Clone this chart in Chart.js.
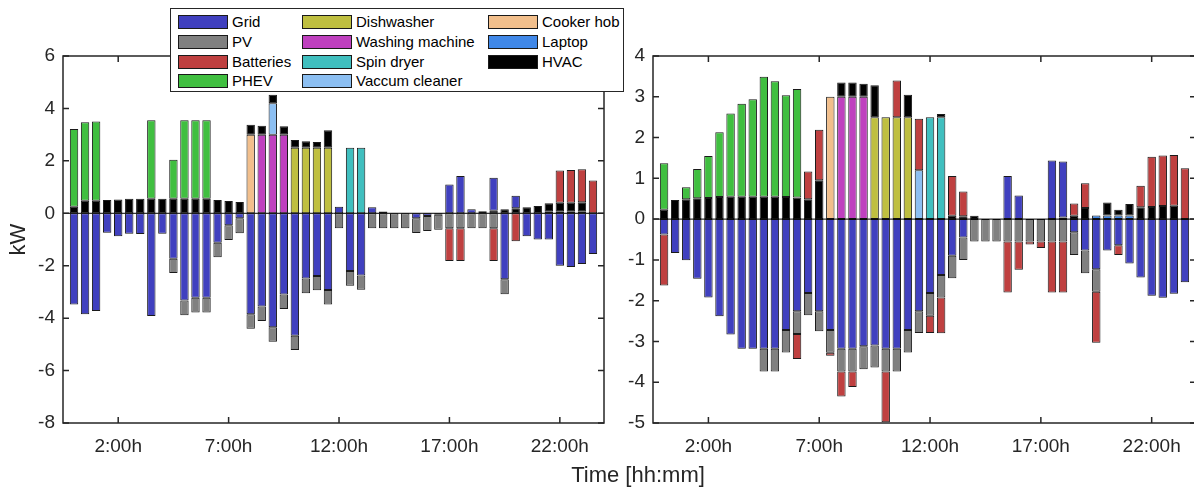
<!DOCTYPE html>
<html>
<head>
<meta charset="utf-8">
<script src="https://cdn.jsdelivr.net/npm/chart.js@4.4.1/dist/chart.umd.min.js"></script>
<style>
  body { margin: 0; background: #fff; width: 1194px; height: 487px; overflow: hidden; position: relative;
         font-family: "Liberation Sans", Arial, sans-serif; color: #262626; }
  #left { position: absolute; left: 0; top: 0; }
  #right { position: absolute; left: 612px; top: 0; }
  #legend { position: absolute; left: 170px; top: 8px; width: 454px; height: 84px; box-sizing: border-box;
            border: 1.5px solid #262626; background: #fff; z-index: 2; }
  .item { position: absolute; height: 16px; font-size: 15px; line-height: 16px; white-space: nowrap; color: #000; }
  .sw { position: absolute; left: 0; top: 1px; width: 50px; height: 14px; box-sizing: border-box; border: 1px solid #1a1a1a; }
  .item span { position: absolute; left: 54px; top: 0; }
  #xtitle { position: absolute; left: 0; top: 464px; width: 1276px; text-align: center; font-size: 22px; line-height: 22px; color: #262626; }
</style>
</head>
<body>
<canvas id="left" width="612" height="487"></canvas>
<canvas id="right" width="584" height="487"></canvas>
<div id="legend"></div>
<div id="xtitle">Time [hh:mm]</div>
<script>
// half-hour slots, tick positions and labels
const slots = Array.from({ length: 48 }, (_, i) => i + 1);
const tickPos = [5, 15, 25, 35, 45];
const tickLabels = ['2:00h', '7:00h', '12:00h', '17:00h', '22:00h'];

const seriesNames = ['Grid', 'PV', 'Batteries', 'PHEV', 'Dishwasher', 'Washing machine', 'Spin dryer',
                     'Vaccum cleaner', 'Cooker hob', 'Laptop', 'HVAC'];
const seriesColors = ['#4040bf', '#808080', '#bf4040', '#40bf40', '#bfbf40', '#bf40bf', '#40bfbf',
                      '#8cbff2', '#f2bf8c', '#4088e8', '#000000'];
// stacking order from the base outwards
const stackOrder = ['Laptop', 'Cooker hob', 'Washing machine', 'Dishwasher', 'Spin dryer', 'Vaccum cleaner',
                    'HVAC', 'Grid', 'PV', 'PHEV', 'Batteries'];

// left plot (kW)
const gridL = [-3.48,-3.85,-3.73,-0.74,-0.88,-0.78,-0.79,-3.92,-0.78,-1.73,
               -3.33,-3.22,-3.22,-1.12,-0.46,-0.19,-3.85,-3.56,-4.35,-3.10,
               -4.67,-2.49,-2.39,-2.93,0.25,-2.20,-2.37,0.23,0.07,0,
               0,-0.19,-0.10,-0.06,1.10,1.42,0.15,0,1.26,-2.52,
               0.48,-0.88,-1.00,-1.00,-2.00,-2.05,-1.93,-1.55];
const pvL = [0,0,0,0,0,0,0,0,0,-0.55,
             -0.56,-0.56,-0.56,-0.56,-0.56,-0.57,-0.55,-0.55,-0.55,-0.55,
             -0.55,-0.56,-0.55,-0.55,-0.57,-0.56,-0.55,-0.57,-0.57,-0.57,
             -0.57,-0.56,-0.58,-0.57,-0.57,-0.57,-0.57,-0.57,-0.57,-0.57,
             0,0,0,0,0,0,0,0];
const batL = [0,0,0,0,0,0,0,0,0,0,
              0,0,0,0,0,0,0,0,0,0,
              0,0,0,0,0,0,0,0,0,0,
              0,0,0,0,-1.25,-1.25,0,0,-1.25,0,
              -1.07,0,0,0,1.23,1.25,1.26,1.25];
const phevL = [2.97,2.99,3.02,0,0,0,0,3.00,0,1.49,
               3.00,3.00,3.00,0,0,0,0,0,0,0,
               0,0,0,0,0,0,0,0,0,0,
               0,0,0,0,0,0,0,0,0,0,
               0,0,0,0,0,0,0,0];
const dishL = [0,0,0,0,0,0,0,0,0,0, 0,0,0,0,0,0,0,0,0,0, 2.5,2.5,2.5,2.5,0,0,0,0,0,0,
               0,0,0,0,0,0,0,0,0,0, 0,0,0,0,0,0,0,0];
const washL = [0,0,0,0,0,0,0,0,0,0, 0,0,0,0,0,0,0,3.0,3.0,3.0, 0,0,0,0,0,0,0,0,0,0,
               0,0,0,0,0,0,0,0,0,0, 0,0,0,0,0,0,0,0];
const spinL = [0,0,0,0,0,0,0,0,0,0, 0,0,0,0,0,0,0,0,0,0, 0,0,0,0,0,2.5,2.5,0,0,0,
               0,0,0,0,0,0,0,0,0,0, 0,0,0,0,0,0,0,0];
const vacL = [0,0,0,0,0,0,0,0,0,0, 0,0,0,0,0,0,0,0,1.2,0, 0,0,0,0,0,0,0,0,0,0,
              0,0,0,0,0,0,0,0,0,0, 0,0,0,0,0,0,0,0];
const cookL = [0,0,0,0,0,0,0,0,0,0, 0,0,0,0,0,0,3.0,0,0,0, 0,0,0,0,0,0,0,0,0,0,
               0,0,0,0,0,0,0,0,0,0, 0,0,0,0,0,0,0,0];
const laptopL = [0,0,0,0,0,0,0,0,0,0, 0,0,0,0,0,0,0,0,0,0, 0,0,0,0,0,0,0,0,0,0,
                 0,0,0,0,0,0,0,0,0,0, 0,0,0,0.06,0.06,0.06,0.06,0];
const hvacL = [0.25,0.48,0.48,0.51,0.53,0.55,0.55,0.55,0.55,0.55,
               0.55,0.55,0.55,0.51,0.47,0.43,0.38,0.34,0.32,0.32,
               0.30,0.25,0.22,0.67,0,0,0,0,0,0,
               0,0,0,0,0,0,0,0.08,0.10,0.15,
               0.19,0.23,0.28,0.32,0.34,0.34,0.36,0];

// right plot (kW)
const gridR = [-0.38,-0.83,-1.01,-1.46,-1.92,-2.38,-2.83,-3.18,-3.18,-3.18,
               -3.18,-2.72,-2.26,-1.81,-2.26,-2.72,-3.18,-3.18,-3.12,-3.10,
               -3.18,-3.18,-2.72,-2.26,-1.81,-1.37,-0.90,-0.45,0,0,
               0,1.06,0.58,0,0,1.44,1.37,-0.32,-0.77,-1.23,
               -0.77,-0.64,-1.09,-1.43,-1.88,-1.93,-1.83,-1.55];
const pvR = [0,0,0,0,0,0,0,0,0,-0.56,
             -0.56,-0.55,-0.56,-0.55,-0.49,-0.56,-0.56,-0.56,-0.56,-0.54,
             -0.56,-0.56,-0.55,-0.53,-0.56,-0.55,-0.55,-0.55,-0.55,-0.55,
             -0.55,-0.55,-0.55,-0.55,-0.55,-0.55,-0.55,-0.56,-0.56,-0.55,
             0,0,0,0,0,0,0,0];
const batR = [-1.25,0,0,0,0,0,0,0,0,0,
              0,0,-0.61,0.68,1.24,-0.07,-0.61,-0.38,0,0,
              -1.24,0.90,0,1.26,-0.42,-0.88,0.98,0.61,0,0,
              0,-1.25,-0.69,-0.07,-0.16,-1.25,-1.25,0.30,0.61,-1.25,
              0,-0.24,0,0.53,1.23,1.24,1.24,1.25];
const phevR = [1.14,0,0.29,0.72,1.03,1.59,2.04,2.28,2.39,2.94,
               2.83,2.50,2.66,0,0,0,0,0,0,0,
               0,0,0,0,0,0,0,0,0,0,
               0,0,0,0,0,0,0,0,0,0,
               0,0,0,0,0,0,0,0];
const dishR = [0,0,0,0,0,0,0,0,0,0, 0,0,0,0,0,0,0,0,0,2.5, 2.5,2.5,2.5,0,0,0,0,0,0,0,
               0,0,0,0,0,0,0,0,0,0, 0,0,0,0,0,0,0,0];
const washR = [0,0,0,0,0,0,0,0,0,0, 0,0,0,0,0,0,3.0,3.0,3.0,0, 0,0,0,0,0,0,0,0,0,0,
               0,0,0,0,0,0,0,0,0,0, 0,0,0,0,0,0,0,0];
const spinR = [0,0,0,0,0,0,0,0,0,0, 0,0,0,0,0,0,0,0,0,0, 0,0,0,0,2.5,2.5,0,0,0,0,
               0,0,0,0,0,0,0,0,0,0, 0,0,0,0,0,0,0,0];
const vacR = [0,0,0,0,0,0,0,0,0,0, 0,0,0,0,0,0,0,0,0,0, 0,0,0,1.2,0,0,0,0,0,0,
              0,0,0,0,0,0,0,0,0,0, 0,0,0,0,0,0,0,0];
const cookR = [0,0,0,0,0,0,0,0,0,0, 0,0,0,0,0,3.0,0,0,0,0, 0,0,0,0,0,0,0,0,0,0,
               0,0,0,0,0,0,0,0,0,0, 0,0,0,0,0,0,0,0];
const laptopR = [0,0,0,0,0,0,0,0,0,0, 0,0,0,0,0,0,0,0,0,0, 0,0,0,0,0,0,0,0,0,0,
                 0,0,0,0,0,0,0,0,0,0.09, 0.09,0.09,0.09,0,0,0,0,0];
const hvacR = [0.23,0.47,0.49,0.51,0.52,0.54,0.55,0.55,0.55,0.55,
               0.55,0.54,0.53,0.49,0.95,0,0.35,0.35,0.32,0.78,
               0,0,0.55,0,0,0.08,0.08,0.07,0.08,0,
               0,0,0,0,0,0,0.04,0.08,0.27,0,
               0.32,0.14,0.28,0.29,0.30,0.32,0.33,0];

const leftVals = { 'Grid': gridL, 'PV': pvL, 'Batteries': batL, 'PHEV': phevL, 'Dishwasher': dishL,
  'Washing machine': washL, 'Spin dryer': spinL, 'Vaccum cleaner': vacL, 'Cooker hob': cookL,
  'Laptop': laptopL, 'HVAC': hvacL };
const rightVals = { 'Grid': gridR, 'PV': pvR, 'Batteries': batR, 'PHEV': phevR, 'Dishwasher': dishR,
  'Washing machine': washR, 'Spin dryer': spinR, 'Vaccum cleaner': vacR, 'Cooker hob': cookR,
  'Laptop': laptopR, 'HVAC': hvacR };

Chart.defaults.font.family = '"Liberation Sans", Arial, sans-serif';
Chart.defaults.color = '#262626';

// legend, three columns filled top-down
const legend = document.getElementById('legend');
seriesNames.forEach((name, i) => {
  const col = Math.floor(i / 4), row = i % 4;
  const el = document.createElement('div');
  el.className = 'item';
  el.style.left = [7, 131, 317][col] + 'px';
  el.style.top = (5 + row * 19.8) + 'px';
  el.innerHTML = '<div class="sw" style="background:' + seriesColors[i] + '"></div><span>' + name + '</span>';
  legend.appendChild(el);
});

// axes box, inward ticks and zero line
const framePlugin = {
  id: 'frame',
  afterDatasetsDraw(chart) {
    const { ctx, chartArea: a, scales: { x, y } } = chart;
    ctx.save();
    const y0 = y.getPixelForValue(0);
    ctx.strokeStyle = '#000';
    ctx.lineWidth = 1;
    ctx.beginPath();
    ctx.moveTo(a.left, y0); ctx.lineTo(a.right, y0);
    ctx.stroke();
    ctx.strokeStyle = '#262626';
    ctx.lineWidth = 1.5;
    ctx.strokeRect(a.left, a.top, a.right - a.left, a.bottom - a.top);
    ctx.beginPath();
    x.ticks.forEach(t => {
      const px = x.getPixelForValue(t.value);
      ctx.moveTo(px, a.bottom); ctx.lineTo(px, a.bottom - 6);
      ctx.moveTo(px, a.top); ctx.lineTo(px, a.top + 6);
    });
    y.ticks.forEach(t => {
      const py = y.getPixelForValue(t.value);
      ctx.moveTo(a.left, py); ctx.lineTo(a.left + 6, py);
      ctx.moveTo(a.right, py); ctx.lineTo(a.right - 6, py);
    });
    ctx.stroke();
    ctx.restore();
  }
};

function makeDatasets(vals) {
  return stackOrder.map(name => ({
    label: name,
    data: vals[name].map((v, i) => ({ x: slots[i], y: v === 0 ? null : v })),
    backgroundColor: seriesColors[seriesNames.indexOf(name)],
    borderColor: '#1a1a1a',
    borderWidth: 1,
    borderSkipped: false,
    stack: 's'
  }));
}

function makeChart(id, vals, yMin, yMax, yStep, yWidth, showTitle, padRight) {
  return new Chart(document.getElementById(id), {
    type: 'bar',
    data: { datasets: makeDatasets(vals) },
    plugins: [framePlugin],
    options: {
      responsive: false,
      animation: false,
      devicePixelRatio: 1,
      categoryPercentage: 1,
      barPercentage: 0.76,
      layout: { padding: { top: 56, right: padRight, bottom: 0, left: 0 } },
      plugins: { legend: { display: false }, tooltip: { enabled: false } },
      scales: {
        x: {
          type: 'linear', min: 0, max: 49, stacked: true, offset: false,
          grid: { display: false, drawTicks: false, offset: false }, border: { display: false },
          afterBuildTicks: s => { s.ticks = tickPos.map(v => ({ value: v })); },
          afterFit: s => { s.height = 64; },
          ticks: {
            autoSkip: false, maxRotation: 0, padding: 12,
            font: { size: 19 }, color: '#262626',
            callback: v => tickLabels[tickPos.indexOf(v)]
          }
        },
        y: {
          min: yMin, max: yMax, stacked: true,
          grid: { display: false, drawTicks: false }, border: { display: false },
          afterFit: s => { s.width = yWidth; },
          ticks: { stepSize: yStep, padding: 8, font: { size: 19 }, color: '#262626' },
          title: { display: showTitle, text: 'kW', font: { size: 22 }, color: '#262626',
                   padding: { top: 6, bottom: 0 } }
        }
      }
    }
  });
}

makeChart('left', leftVals, -8, 6, 2, 63, true, 8);
makeChart('right', rightVals, -5, 4, 1, 41, false, 0);
</script>
</body>
</html>
